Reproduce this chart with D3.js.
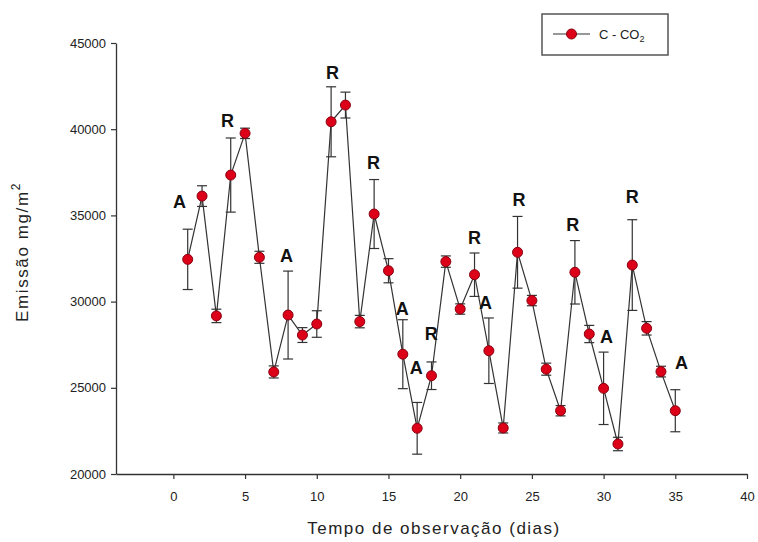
<!DOCTYPE html>
<html>
<head>
<meta charset="utf-8">
<script src="https://cdn.jsdelivr.net/npm/d3@7"></script>
<style>
  html, body { margin: 0; padding: 0; background: #fff; }
  svg { display: block; font-family: Arial, "Liberation Sans", sans-serif; }
</style>
</head>
<body>
<svg id="chart" width="758" height="542"></svg>
<script>
// Daily C-CO2 emission (mg/m2) with standard error
const days = [1,2,3,4,5,6,7,8,9,10,11,12,13,14,15,16,17,18,19,20,21,22,23,24,25,26,27,28,29,30,31,32,33,34,35];
const emission = [32450,36120,29170,37340,39760,32570,25920,29220,28060,28700,40430,41400,28840,35080,31790,26950,22650,25700,32320,29570,31560,27150,22670,32860,30060,26080,23670,31700,28120,24970,21740,32120,28450,25940,23670];
const stdErr = [1750,600,390,2150,300,350,350,2550,430,770,2030,750,360,2000,700,2000,1500,800,330,300,1260,1900,290,2080,300,350,300,1840,500,2100,390,2630,390,310,1220];

// Event annotations: A / R letters placed in data coordinates
const noteText = ["A","R","A","R","R","A","A","R","R","A","R","R","A","R","A"];
const noteDay  = [0.42,3.77,7.89,11.1,13.95,15.96,16.94,17.98,21.0,21.77,24.1,27.85,30.2,32.0,35.43];
const noteVal  = [35780,40530,32700,43260,38040,29570,26150,28120,33690,29920,35950,34500,27950,36070,26440];

const xTicks = [0,5,10,15,20,25,30,35,40];
const yTicks = [20000,25000,30000,35000,40000,45000];
const seriesName = "C - CO";

const svg = d3.select("#chart");
const plot = { left: 116, right: 747, top: 43, bottom: 474 };

const x = d3.scaleLinear().domain([-4, 40]).range([plot.left, plot.right]);
const y = d3.scaleLinear().domain([20000, 45000]).range([plot.bottom, plot.top]);

const axisColor = "#333";
const textColor = "#222";

// Axes
const xAxis = svg.append("g")
  .attr("transform", `translate(0,${plot.bottom})`)
  .call(d3.axisBottom(x).tickValues(xTicks).tickSize(5).tickSizeOuter(0).tickFormat(d3.format("d")));
const yAxis = svg.append("g")
  .attr("transform", `translate(${plot.left},0)`)
  .call(d3.axisLeft(y).tickValues(yTicks).tickSize(5).tickSizeOuter(0).tickFormat(d3.format("d")));

[xAxis, yAxis].forEach(g => {
  g.select(".domain").attr("stroke", axisColor).attr("stroke-width", 1.3);
  g.selectAll(".tick line").attr("stroke", axisColor).attr("stroke-width", 1.2);
  g.selectAll(".tick text").attr("fill", textColor).attr("font-size", 13)
    .attr("font-family", "Arial, 'Liberation Sans', sans-serif");
});
xAxis.selectAll(".tick text").attr("dy", "1.45em");
yAxis.selectAll(".tick text").attr("dx", "-0.15em");

// Axis titles
svg.append("text")
  .attr("x", 434).attr("y", 534)
  .attr("text-anchor", "middle")
  .attr("font-size", 17).attr("letter-spacing", 1.5)
  .attr("fill", textColor)
  .text("Tempo de observação (dias)");

const yTitle = svg.append("text")
  .attr("transform", "translate(28,252) rotate(-90)")
  .attr("text-anchor", "middle")
  .attr("font-size", 17).attr("letter-spacing", 1.6)
  .attr("fill", textColor);
yTitle.append("tspan").text("Emissão mg/m");
yTitle.append("tspan").attr("font-size", 12).attr("dy", -8).text("2");

// Data
const data = days.map((d, i) => ({ day: d, v: emission[i], e: stdErr[i] }));

// Error bars
const capW = 5;
const eb = svg.append("g").attr("stroke", "#333").attr("stroke-width", 1.2);
data.forEach(d => {
  const cx = x(d.day), yt = y(d.v + d.e), yb = y(d.v - d.e);
  eb.append("line").attr("x1", cx).attr("x2", cx).attr("y1", yt).attr("y2", yb);
  eb.append("line").attr("x1", cx - capW).attr("x2", cx + capW).attr("y1", yt).attr("y2", yt);
  eb.append("line").attr("x1", cx - capW).attr("x2", cx + capW).attr("y1", yb).attr("y2", yb);
});

// Line
svg.append("path")
  .datum(data)
  .attr("fill", "none")
  .attr("stroke", "#333")
  .attr("stroke-width", 1.2)
  .attr("d", d3.line().x(d => x(d.day)).y(d => y(d.v)));

// Markers
svg.append("g").selectAll("circle")
  .data(data).join("circle")
  .attr("cx", d => x(d.day)).attr("cy", d => y(d.v))
  .attr("r", 5)
  .attr("fill", "#dc0018")
  .attr("stroke", "#8a0010")
  .attr("stroke-width", 1);

// Annotations
svg.append("g").selectAll("text")
  .data(noteText.map((t, i) => ({ t, d: noteDay[i], v: noteVal[i] })))
  .join("text")
  .attr("x", d => x(d.d)).attr("y", d => y(d.v))
  .attr("dy", "0.36em")
  .attr("text-anchor", "middle")
  .attr("font-size", 18).attr("font-weight", "bold")
  .attr("fill", "#111")
  .text(d => d.t);

// Legend
const lg = svg.append("g");
lg.append("rect")
  .attr("x", 542).attr("y", 14).attr("width", 126).attr("height", 41)
  .attr("fill", "#fff").attr("stroke", "#555").attr("stroke-width", 1.5);
lg.append("line")
  .attr("x1", 553).attr("x2", 590).attr("y1", 34).attr("y2", 34)
  .attr("stroke", "#333").attr("stroke-width", 1.2);
lg.append("circle")
  .attr("cx", 571.5).attr("cy", 34).attr("r", 5)
  .attr("fill", "#dc0018").attr("stroke", "#8a0010").attr("stroke-width", 1);
const lgText = lg.append("text")
  .attr("x", 599).attr("y", 39)
  .attr("font-size", 13).attr("fill", textColor);
lgText.append("tspan").text(seriesName);
lgText.append("tspan").attr("font-size", 9).attr("dy", 3).text("2");
</script>
</body>
</html>
